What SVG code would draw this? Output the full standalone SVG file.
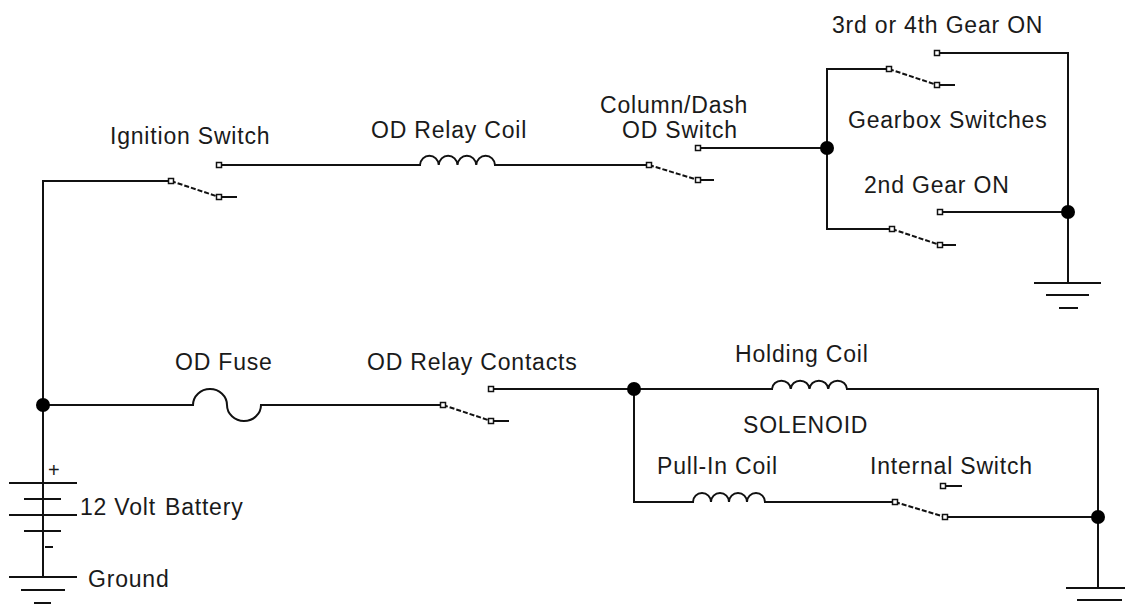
<svg xmlns="http://www.w3.org/2000/svg" width="1125" height="612" viewBox="0 0 1125 612">
<style>
text{font-family:"Liberation Sans",Arial,sans-serif;font-size:23px;fill:#1a1a1a;letter-spacing:0.8px}
.w{fill:none;stroke:#111;stroke-width:2;stroke-linecap:square}
.lev{fill:none;stroke:#111;stroke-width:2;stroke-dasharray:5 2}
.ct{fill:#fff;stroke:#111;stroke-width:1.5}
.dot{fill:#000}
</style>
<defs>
<rect id="c" class="ct" x="-2.5" y="-2.5" width="5" height="5"/>
</defs>
<rect width="1125" height="612" fill="#fff"/>

<g id="connectors">
<path class="w" d="M171 181H43V577"/>
<path class="w" d="M43 405H193"/>
<path class="w" d="M219 165H420M495 165H649"/>
<path class="w" d="M698 148H827M827 69V229M827 69H889M827 229H892"/>
<path class="w" d="M937 53H1068V283M940 212H1068"/>
<path class="w" d="M261 405H443"/>
<path class="w" d="M491 389H772M847 389H1098V588"/>
<path class="w" d="M634 389V502H693M765 502H895"/>
<path class="w" d="M945 517H1098"/>
</g>

<g id="ignition-switch">
<text x="110" y="144">Ignition Switch</text>
<line class="lev" x1="171" y1="181" x2="219" y2="197"/>
<path class="w" d="M219 197H236"/>
<use href="#c" x="171" y="181"/><use href="#c" x="219" y="197"/><use href="#c" x="219" y="165"/>
</g>

<g id="od-relay-coil">
<text x="371" y="138">OD Relay Coil</text>
<path class="w" d="M420 165a9.4 10 0 0 1 18.75 0a9.4 10 0 0 1 18.75 0a9.4 10 0 0 1 18.75 0a9.4 10 0 0 1 18.75 0"/>
</g>

<g id="od-switch">
<text x="600" y="113">Column/Dash</text>
<text x="622" y="138">OD Switch</text>
<line class="lev" x1="649" y1="165" x2="698" y2="180"/>
<path class="w" d="M698 180H713"/>
<use href="#c" x="649" y="165"/><use href="#c" x="698" y="180"/><use href="#c" x="698" y="148"/>
</g>

<g id="gearbox-switches">
<text x="832" y="33">3rd or 4th Gear ON</text>
<text x="848" y="128">Gearbox Switches</text>
<text x="864" y="193">2nd Gear ON</text>
<line class="lev" x1="889" y1="69" x2="937" y2="85"/>
<path class="w" d="M937 85H954"/>
<use href="#c" x="889" y="69"/><use href="#c" x="937" y="85"/><use href="#c" x="937" y="53"/>
<line class="lev" x1="892" y1="229" x2="940" y2="245"/>
<path class="w" d="M940 245H955"/>
<use href="#c" x="892" y="229"/><use href="#c" x="940" y="245"/><use href="#c" x="940" y="212"/>
<circle class="dot" cx="827" cy="148" r="7"/>
<circle class="dot" cx="1068" cy="212" r="7"/>
</g>

<g id="gearbox-ground">
<path class="w" d="M1035 283H1100M1047 295H1088M1060 308H1077"/>
</g>

<g id="battery">
<text x="80" y="515">12 Volt</text>
<text x="165" y="515">Battery</text>
<text x="48" y="477" style="font-size:20px">+</text>
<path class="w" d="M46 547H52"/>
<path class="w" d="M10 483H76M25 499H60M10 515H76M25 531H60"/>
<circle class="dot" cx="43" cy="405" r="7"/>
</g>

<g id="battery-ground">
<text x="88" y="587">Ground</text>
<path class="w" d="M10 577H76M22 590H64M35 603H50"/>
</g>

<g id="od-fuse">
<text x="175" y="370">OD Fuse</text>
<path class="w" d="M193 405A17 16 0 0 1 227 405A17 16 0 0 0 261 405"/>
</g>

<g id="od-relay-contacts">
<text x="367" y="370">OD Relay Contacts</text>
<line class="lev" x1="443" y1="405" x2="491" y2="421"/>
<path class="w" d="M491 421H508"/>
<use href="#c" x="443" y="405"/><use href="#c" x="491" y="421"/><use href="#c" x="491" y="389"/>
</g>

<g id="solenoid">
<text x="743" y="433">SOLENOID</text>
<circle class="dot" cx="634" cy="389" r="7"/>
<circle class="dot" cx="1098" cy="517" r="7"/>
</g>

<g id="holding-coil">
<text x="735" y="362">Holding Coil</text>
<path class="w" d="M772 389a9.4 9 0 0 1 18.75 0a9.4 9 0 0 1 18.75 0a9.4 9 0 0 1 18.75 0a9.4 9 0 0 1 18.75 0"/>
</g>

<g id="pull-in-coil">
<text x="657" y="474">Pull-In Coil</text>
<path class="w" d="M693 502a9 9 0 0 1 18 0a9 9 0 0 1 18 0a9 9 0 0 1 18 0a9 9 0 0 1 18 0"/>
</g>

<g id="internal-switch">
<text x="870" y="474">Internal Switch</text>
<line class="lev" x1="895" y1="502" x2="945" y2="517"/>
<path class="w" d="M943 486H961"/>
<use href="#c" x="895" y="502"/><use href="#c" x="945" y="517"/><use href="#c" x="943" y="486"/>
</g>

<g id="solenoid-ground">
<path class="w" d="M1067 588H1133M1078 600H1121"/>
</g>
</svg>
